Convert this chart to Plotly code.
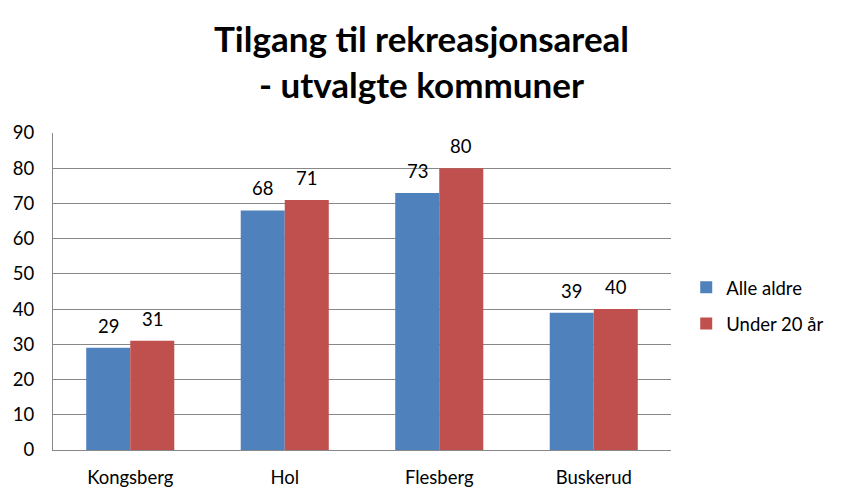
import plotly.graph_objects as go

categories = ["Kongsberg", "Hol", "Flesberg", "Buskerud"]
alle_aldre = [29, 68, 73, 39]
under_20 = [31, 71, 80, 40]
y_ticks = [0, 10, 20, 30, 40, 50, 60, 70, 80, 90]

font = "Lato, Open Sans, sans-serif"
fs = 18.5

fig = go.Figure()
fig.add_trace(go.Bar(name="Alle aldre", x=categories, y=alle_aldre, legendgroup="a",
                     marker=dict(color="#4F81BD", line=dict(width=0)), offsetgroup="a"))
fig.add_trace(go.Bar(name="Under 20 år", x=categories, y=under_20, legendgroup="b",
                     marker=dict(color="#C0504D", line=dict(width=0)), offsetgroup="b"))

# value labels above bars
for vals, xs in ((alle_aldre, -22), (under_20, 22)):
    for c, v in zip(categories, vals):
        fig.add_annotation(x=c, y=v, text=str(v), showarrow=False,
                           xshift=xs, yshift=9, yanchor="bottom",
                           font=dict(size=fs, color="black", family=font))

fig.add_annotation(text="<b>Tilgang til rekreasjonsareal<br>- utvalgte kommuner</b>",
                   xref="paper", yref="paper", x=0.597, y=1.226,
                   xanchor="center", yanchor="middle", showarrow=False,
                   font=dict(size=35, family=font, color="black"))

fig.update_layout(
    width=842, height=503,
    barmode="group", bargap=0.43, bargroupgap=0,
    paper_bgcolor="white", plot_bgcolor="white",
    font=dict(family=font, color="black", size=fs),
    margin=dict(l=53, r=171, t=133, b=53, autoexpand=False),
    legend=dict(xref="container", yref="container", x=0.815, y=0.392,
                xanchor="left", yanchor="middle",
                font=dict(size=fs), tracegroupgap=9, itemsizing="constant"),
    xaxis=dict(showline=True, linecolor="#888888", linewidth=1, ticks="",
               tickfont=dict(size=fs), ticklabelstandoff=11),
    yaxis=dict(range=[0, 90], tickvals=y_ticks, showgrid=True, gridcolor="#888888",
               gridwidth=1, showline=True, linecolor="#888888", linewidth=1,
               ticks="", tickfont=dict(size=fs), zeroline=False, ticklabelstandoff=14),
)

fig.write_html("out.html")
